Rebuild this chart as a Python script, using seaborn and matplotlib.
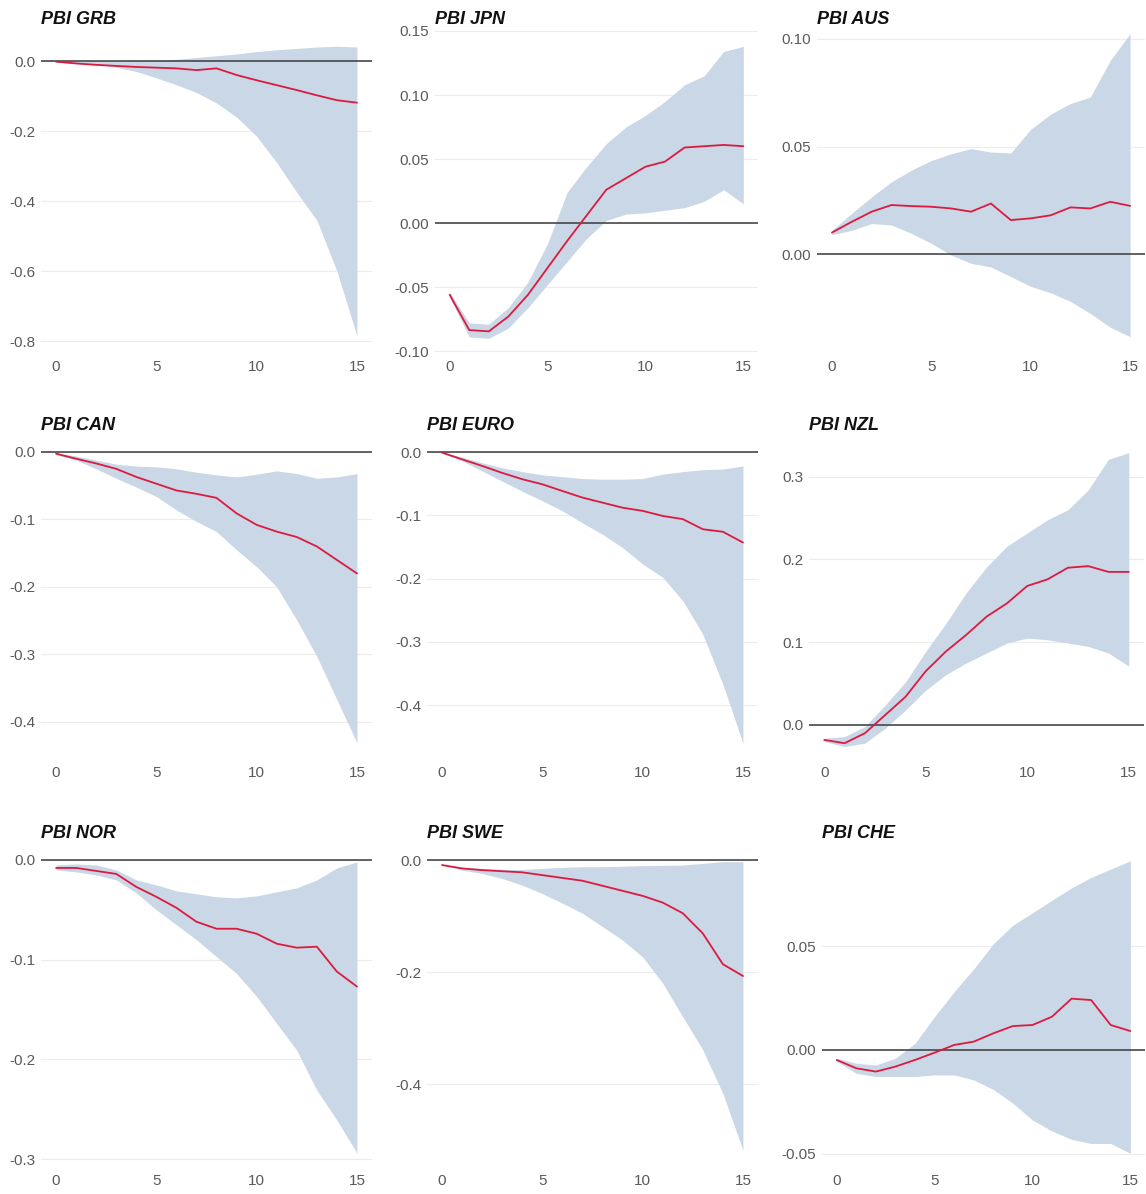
import numpy as np
import pandas as pd
import matplotlib
matplotlib.use("Agg")
import matplotlib.pyplot as plt
import seaborn as sns

sns.set_theme(style="white")
plt.rcParams['font.family'] = ['Liberation Sans', 'DejaVu Sans']

horizon = list(range(16))

# impulse responses (point estimate, lower, upper)
grb_irf = [-0.002, -0.007, -0.011, -0.014, -0.017, -0.019, -0.021, -0.026, -0.021, -0.040, -0.055, -0.069, -0.083, -0.098, -0.112, -0.119]
grb_lo = [-0.002, -0.005, -0.010, -0.018, -0.030, -0.048, -0.068, -0.090, -0.120, -0.160, -0.215, -0.290, -0.375, -0.455, -0.600, -0.785]
grb_hi = [-0.001, 0.000, 0.000, 0.000, 0.001, 0.002, 0.005, 0.010, 0.015, 0.020, 0.027, 0.032, 0.036, 0.040, 0.042, 0.040]

jpn_irf = [-0.056, -0.0836, -0.0846, -0.073, -0.056, -0.035, -0.014, 0.006, 0.026, 0.035, 0.044, 0.048, 0.059, 0.060, 0.061, 0.060]
jpn_lo = [-0.058, -0.089, -0.090, -0.082, -0.066, -0.048, -0.030, -0.012, 0.002, 0.007, 0.008, 0.010, 0.012, 0.017, 0.026, 0.015]
jpn_hi = [-0.054, -0.078, -0.079, -0.066, -0.046, -0.016, 0.024, 0.044, 0.062, 0.075, 0.084, 0.095, 0.108, 0.115, 0.134, 0.138]

aus_irf = [0.010, 0.015, 0.0197, 0.0228, 0.0223, 0.022, 0.0212, 0.0197, 0.0235, 0.0158, 0.0166, 0.018, 0.0217, 0.0212, 0.0243, 0.0224]
aus_lo = [0.009, 0.011, 0.0142, 0.0135, 0.0096, 0.005, -0.0005, -0.0043, -0.006, -0.0105, -0.015, -0.018, -0.022, -0.0276, -0.034, -0.0384]
aus_hi = [0.011, 0.019, 0.0266, 0.0336, 0.039, 0.0435, 0.0466, 0.049, 0.0474, 0.047, 0.058, 0.065, 0.070, 0.073, 0.090, 0.1025]

can_irf = [-0.0025, -0.010, -0.017, -0.025, -0.037, -0.047, -0.057, -0.062, -0.068, -0.091, -0.108, -0.118, -0.126, -0.140, -0.160, -0.180]
can_lo = [-0.004, -0.012, -0.025, -0.039, -0.052, -0.066, -0.086, -0.103, -0.118, -0.145, -0.170, -0.200, -0.249, -0.303, -0.367, -0.431]
can_hi = [-0.001, -0.006, -0.012, -0.018, -0.021, -0.022, -0.025, -0.030, -0.034, -0.037, -0.033, -0.028, -0.032, -0.039, -0.037, -0.032]

euro_irf = [-0.001, -0.0116, -0.022, -0.033, -0.043, -0.051, -0.0616, -0.072, -0.080, -0.088, -0.093, -0.101, -0.106, -0.122, -0.126, -0.143]
euro_lo = [-0.001, -0.014, -0.030, -0.046, -0.062, -0.077, -0.093, -0.112, -0.130, -0.151, -0.177, -0.198, -0.235, -0.288, -0.367, -0.460]
euro_hi = [0.000, -0.008, -0.017, -0.025, -0.031, -0.036, -0.039, -0.042, -0.043, -0.043, -0.042, -0.035, -0.031, -0.028, -0.027, -0.022]

nzl_irf = [-0.018, -0.022, -0.010, 0.012, 0.034, 0.065, 0.089, 0.109, 0.131, 0.147, 0.168, 0.176, 0.190, 0.192, 0.185, 0.185]
nzl_lo = [-0.020, -0.026, -0.022, -0.004, 0.018, 0.042, 0.061, 0.075, 0.087, 0.099, 0.105, 0.103, 0.099, 0.095, 0.087, 0.071]
nzl_hi = [-0.016, -0.014, -0.002, 0.024, 0.052, 0.089, 0.123, 0.160, 0.191, 0.216, 0.232, 0.248, 0.260, 0.284, 0.321, 0.329]

nor_irf = [-0.008, -0.008, -0.011, -0.014, -0.027, -0.037, -0.048, -0.062, -0.069, -0.069, -0.074, -0.084, -0.088, -0.087, -0.112, -0.127]
nor_lo = [-0.010, -0.012, -0.015, -0.020, -0.033, -0.050, -0.065, -0.080, -0.097, -0.114, -0.137, -0.164, -0.191, -0.231, -0.261, -0.294]
nor_hi = [-0.005, -0.004, -0.005, -0.010, -0.020, -0.025, -0.031, -0.034, -0.037, -0.038, -0.036, -0.032, -0.028, -0.020, -0.008, -0.002]

swe_irf = [-0.009, -0.015, -0.018, -0.020, -0.022, -0.027, -0.032, -0.037, -0.046, -0.055, -0.064, -0.076, -0.095, -0.131, -0.186, -0.207]
swe_lo = [-0.009, -0.018, -0.024, -0.033, -0.045, -0.060, -0.077, -0.095, -0.119, -0.143, -0.173, -0.220, -0.280, -0.339, -0.417, -0.518]
swe_hi = [-0.009, -0.013, -0.015, -0.017, -0.017, -0.015, -0.013, -0.012, -0.012, -0.011, -0.010, -0.0095, -0.009, -0.006, -0.003, -0.003]

che_irf = [-0.0048, -0.0088, -0.0104, -0.008, -0.0048, -0.0013, 0.0024, 0.004, 0.008, 0.0115, 0.012, 0.016, 0.0247, 0.024, 0.012, 0.0091]
che_lo = [-0.0055, -0.0112, -0.0128, -0.0128, -0.0128, -0.012, -0.012, -0.0144, -0.019, -0.0256, -0.0337, -0.039, -0.043, -0.045, -0.045, -0.0497]
che_hi = [-0.004, -0.0064, -0.0072, -0.004, 0.0032, 0.016, 0.028, 0.039, 0.051, 0.060, 0.066, 0.072, 0.078, 0.083, 0.087, 0.091]

titles = ["PBI GRB", "PBI JPN", "PBI AUS", "PBI CAN", "PBI EURO", "PBI NZL", "PBI NOR", "PBI SWE", "PBI CHE"]
series = [(grb_irf, grb_lo, grb_hi), (jpn_irf, jpn_lo, jpn_hi), (aus_irf, aus_lo, aus_hi),
          (can_irf, can_lo, can_hi), (euro_irf, euro_lo, euro_hi), (nzl_irf, nzl_lo, nzl_hi),
          (nor_irf, nor_lo, nor_hi), (swe_irf, swe_lo, swe_hi), (che_irf, che_lo, che_hi)]
yticks = [[-0.8, -0.6, -0.4, -0.2, 0.0], [-0.10, -0.05, 0.00, 0.05, 0.10, 0.15], [0.00, 0.05, 0.10],
          [-0.4, -0.3, -0.2, -0.1, 0.0], [-0.4, -0.3, -0.2, -0.1, 0.0], [0.0, 0.1, 0.2, 0.3],
          [-0.3, -0.2, -0.1, 0.0], [-0.4, -0.2, 0.0], [-0.05, 0.00, 0.05]]
ydec = [1, 2, 2, 1, 1, 1, 1, 1, 2]

# panel layout in pixels: (left, top, right, bottom) and y limits
W, H = 1146, 1194
rects = [(41, 31, 372, 353), (435, 31, 758, 353), (817, 31, 1145, 353),
         (41, 437, 372, 759), (427, 437, 758, 759), (809, 437, 1144, 759),
         (41, 845, 372, 1167), (427, 845, 758, 1167), (822, 845, 1145, 1167)]
ylims = [(-0.834, 0.0857), (-0.1015, 0.1492), (-0.046, 0.1037),
         (-0.455, 0.0222), (-0.485, 0.0237), (-0.0411, 0.348),
         (-0.308, 0.0150), (-0.548, 0.0268), (-0.0563, 0.0986)]

band_col = "#c9d7e6"
line_col = "#dc1a40"

fig = plt.figure(figsize=(W / 100, H / 100), dpi=100)
for i, (title, (irf, lo, hi)) in enumerate(zip(titles, series)):
    l, t, r, b = rects[i]
    ax = fig.add_axes([l / W, 1 - b / H, (r - l) / W, (b - t) / H])
    df = pd.DataFrame({"h": horizon, "irf": irf, "lo": lo, "hi": hi})
    ax.fill_between(df["h"], df["lo"], df["hi"], color=band_col, lw=0, zorder=1)
    ax.axhline(0, color="#3a3a3a", lw=1.1, zorder=2)
    sns.lineplot(data=df, x="h", y="irf", ax=ax, color=line_col, lw=1.3, zorder=3)
    ax.set_xlim(-0.75, 15.75)
    ax.set_ylim(*ylims[i])
    ax.set_xticks([0, 5, 10, 15])
    ax.set_yticks(yticks[i])
    ax.set_yticklabels([f"{v:.{ydec[i]}f}" for v in yticks[i]])
    ax.grid(axis="y", color="#ececec", lw=0.8, zorder=0)
    ax.grid(axis="x", visible=False)
    ax.set_axisbelow(True)
    for s in ax.spines.values():
        s.set_visible(False)
    ax.tick_params(axis="y", length=3, width=0.6, color="#bbbbbb", labelsize=11,
                   labelcolor="#5a5a5a", pad=1)
    ax.tick_params(axis="x", length=2, width=0.6, color="#dddddd", labelsize=11,
                   labelcolor="#5a5a5a", pad=3)
    ax.set_xlabel("")
    ax.set_ylabel("")
    ax.set_title(title, loc="left", fontsize=13, fontweight="bold", fontstyle="italic",
                 color="#111111", pad=5, x=0.0)

fig.savefig("out.png", dpi=100, facecolor="white")
